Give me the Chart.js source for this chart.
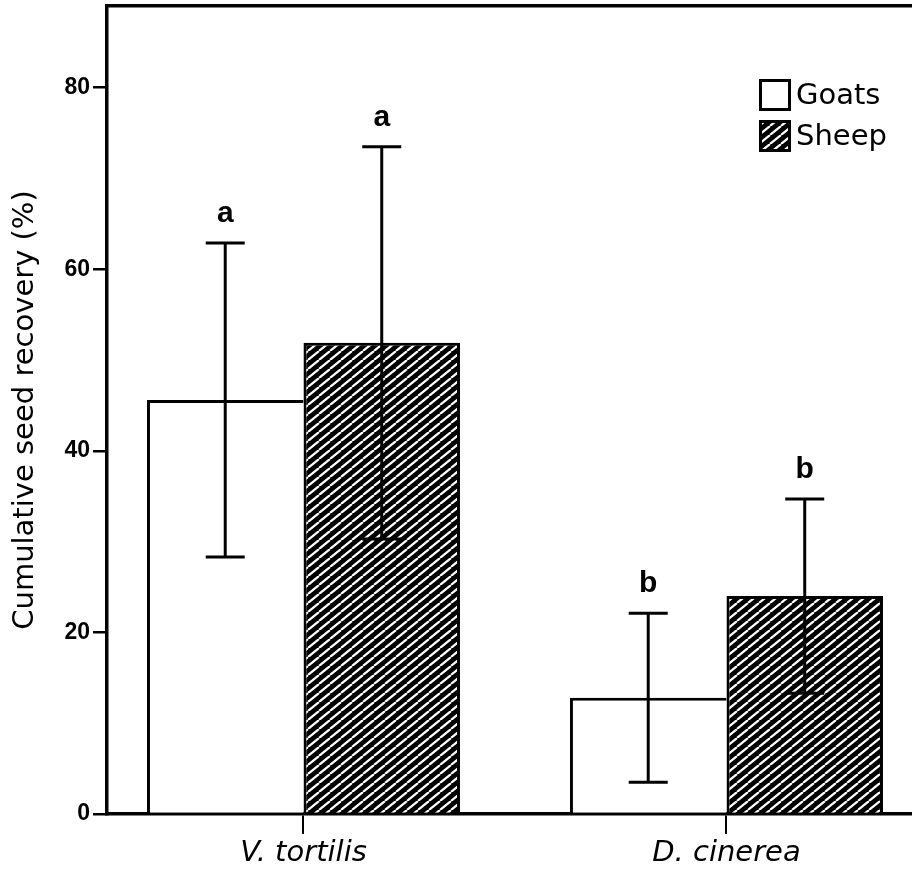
<!DOCTYPE html>
<html>
<head>
<meta charset="utf-8">
<title>Cumulative seed recovery</title>
<script src="https://cdn.jsdelivr.net/npm/chart.js@4.4.1/dist/chart.umd.min.js"></script>
<style>
	body { margin: 0; background: #fff; overflow: hidden; }
	canvas { display: block; }
</style>
</head>
<body>
<canvas id="chart_demo" width="912" height="872"></canvas>
<script>
const categories = ["V. tortilis", "D. cinerea"];
const goats = [45.6, 12.8];
const goatsError = [17.3, 9.3];
const goatsLetters = ["a", "b"];
const sheep = [51.9, 24.0];
const sheepError = [21.6, 10.7];
const sheepLetters = ["a", "b"];
const yTicks = [0, 20, 40, 60, 80];

const errors = [goatsError, sheepError];
const letters = [goatsLetters, sheepLetters];

const ctx = document.getElementById("chart_demo").getContext("2d");

// black fill with thin white "/" stripes
function makeHatch() {
	const tile = document.createElement("canvas");
	tile.width = 11;
	tile.height = 9;
	const t = tile.getContext("2d");
	t.fillStyle = "#000";
	t.fillRect(0, 0, 11, 9);
	t.strokeStyle = "#fff";
	t.lineWidth = 2.2;
	t.beginPath();
	for (let k = -1; k <= 1; k++) {
		t.moveTo(k * 11, 9);
		t.lineTo(k * 11 + 11, 0);
	}
	t.stroke();
	return ctx.createPattern(tile, "repeat");
}
const hatch = makeHatch();

const errorBars = {
	id: "errorBars",
	afterDatasetsDraw(chart) {
		const c = chart.ctx;
		const y = chart.scales.y;
		c.save();
		c.strokeStyle = "#000";
		c.lineWidth = 3;
		c.fillStyle = "#000";
		c.font = "bold 30px 'Liberation Sans', Arial, sans-serif";
		c.textAlign = "center";
		c.textBaseline = "alphabetic";
		chart.data.datasets.forEach(function(ds, i) {
			chart.getDatasetMeta(i).data.forEach(function(bar, j) {
				const v = ds.data[j].y;
				const top = y.getPixelForValue(v + errors[i][j]);
				const bottom = y.getPixelForValue(v - errors[i][j]);
				c.beginPath();
				c.moveTo(bar.x, top);
				c.lineTo(bar.x, bottom);
				c.moveTo(bar.x - 19.5, top);
				c.lineTo(bar.x + 19.5, top);
				c.moveTo(bar.x - 19.5, bottom);
				c.lineTo(bar.x + 19.5, bottom);
				c.stroke();
				c.fillText(letters[i][j], bar.x, top - 21);
			});
		});
		c.restore();
	}
};

const boxLegend = {
	id: "boxLegend",
	afterDraw(chart) {
		const c = chart.ctx;
		c.save();
		c.font = "29px 'DejaVu Sans', sans-serif";
		c.textAlign = "left";
		c.textBaseline = "middle";
		chart.data.datasets.forEach(function(ds, i) {
			const top = 80.5 + i * 41;
			c.fillStyle = ds.backgroundColor;
			c.fillRect(760.5, top, 29, 29);
			c.lineWidth = 3;
			c.strokeStyle = "#000";
			c.strokeRect(760.5, top, 29, 29);
			c.fillStyle = "#000";
			c.fillText(ds.label, 796, top + 16);
		});
		c.restore();
	}
};

const data = {
	datasets: [
		{
			label: "Goats",
			data: goats.map((v, i) => ({ x: i, y: v })),
			backgroundColor: "#fff",
			borderColor: "#000",
			borderWidth: { top: 3, left: 3, right: 0, bottom: 0 },
			borderSkipped: false,
		},
		{
			label: "Sheep",
			data: sheep.map((v, i) => ({ x: i, y: v })),
			backgroundColor: hatch,
			borderColor: "#000",
			borderWidth: { top: 3, left: 3, right: 3, bottom: 0 },
			borderSkipped: false,
		},
	],
};

const config = {
	type: "bar",
	data: data,
	options: {
		responsive: false,
		maintainAspectRatio: false,
		animation: false,
		categoryPercentage: 0.74,
		barPercentage: 1.0,
		layout: {
			padding: { top: 6, right: 0, bottom: 0, left: 0 },
		},
		plugins: {
			legend: { display: false },
			tooltip: { enabled: false },
		},
		scales: {
			x: {
				type: "linear",
				min: -0.4645,
				max: 1.4386,
				offset: false,
				afterBuildTicks: function(s) {
					s.ticks = categories.map((c, i) => ({ value: i }));
				},
				afterFit: function(s) {
					s.height = 58;
					s.paddingLeft = 0;
					s.paddingRight = 0;
				},
				ticks: {
					callback: (v) => categories[v],
					color: "#000",
					font: { family: "'DejaVu Sans', sans-serif", size: 29, style: "italic" },
					padding: 2,
					maxRotation: 0,
					autoSkip: false,
				},
				grid: { offset: false, drawOnChartArea: false, color: "#000", lineWidth: 2, tickLength: 20 },
				border: { color: "#000", width: 3.5 },
			},
			x2: {
				type: "linear",
				position: "top",
				display: true,
				offset: false,
				grid: { display: false, drawTicks: false },
				ticks: { display: false },
				border: { color: "#000", width: 3.5 },
				afterFit: function(s) {
					s.height = 0;
				},
			},
			y: {
				min: 0,
				max: 89,
				afterBuildTicks: function(s) {
					s.ticks = yTicks.map((v) => ({ value: v }));
				},
				afterFit: function(s) {
					s.width = 107;
					s.paddingTop = 0;
					s.paddingBottom = 0;
				},
				ticks: {
					color: "#000",
					font: { family: "'Liberation Sans', Arial, sans-serif", size: 23, weight: "bold" },
					padding: 3,
				},
				grid: { drawOnChartArea: false, color: "#000", lineWidth: 2.5, tickLength: 14 },
				border: { color: "#000", width: 3.5 },
				title: {
					display: true,
					text: "Cumulative seed recovery (%)",
					color: "#000",
					font: { family: "'DejaVu Sans', sans-serif", size: 29 },
					padding: { top: 8, bottom: 0 },
				},
			},
		},
	},
	plugins: [errorBars, boxLegend],
};

const chartInstance = new Chart(ctx, config);
</script>
</body>
</html>
